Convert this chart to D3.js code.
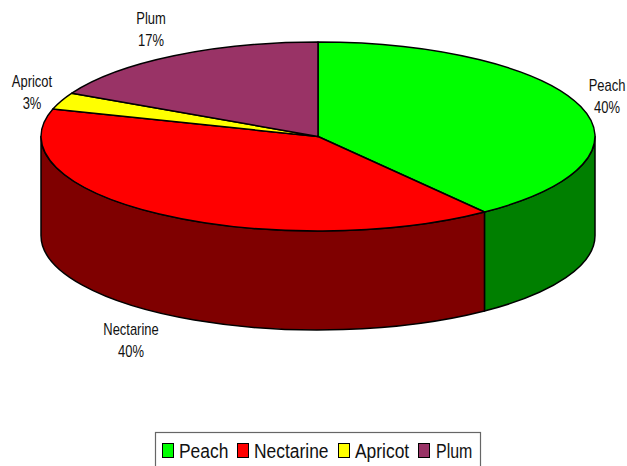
<!DOCTYPE html>
<html><head><meta charset="utf-8">
<script src="https://cdn.jsdelivr.net/npm/d3@7"></script>
<style>html,body{margin:0;padding:0;background:#fff;overflow:hidden}svg{display:block}
text{font-family:"Liberation Sans",sans-serif;fill:#111}</style>
</head><body><svg id="c" width="627" height="466"></svg>
<script>
const categories = ["Peach","Nectarine","Apricot","Plum"];
const values = [39.7,39.9,2.9,17.4];
const percentLabels = ["40%","40%","3%","17%"];
const topColors = ["#00ff00","#ff0000","#ffff00","#993366"];
const sideColors = ["#007f00","#7f0000","#7f7f00","#4c1933"];

const cx=318, cy=136.5, rx=277, ry=94.5, depth=99;
const svg=d3.select("#c");
const pie=d3.pie().sort(null).value((d,i)=>values[i]);
const arcs=pie(categories);
const px=a=>cx+rx*Math.sin(a), py=a=>cy-ry*Math.cos(a);
const H=Math.PI/2, TH=3*Math.PI/2;
function applyStroke(s){return s.attr("stroke","#000").attr("stroke-width",1.5).attr("stroke-linejoin","round");}

const sides=arcs.map((d,i)=>({i,a:Math.max(d.startAngle,H),b:Math.min(d.endAngle,TH)})).filter(d=>d.b>d.a);
applyStroke(svg.append("g").selectAll("path").data(sides).join("path")
 .attr("fill",d=>sideColors[d.i])
 .attr("d",d=>`M${px(d.a)},${py(d.a)}A${rx},${ry} 0 0 1 ${px(d.b)},${py(d.b)}`+
   `L${px(d.b)},${py(d.b)+depth}A${rx},${ry} 0 0 0 ${px(d.a)},${py(d.a)+depth}Z`));

applyStroke(svg.append("g").selectAll("path").data(arcs).join("path")
 .attr("fill",(d,i)=>topColors[i])
 .attr("d",d=>{const la=d.endAngle-d.startAngle>Math.PI?1:0;
   return `M${cx},${cy}L${px(d.startAngle)},${py(d.startAngle)}A${rx},${ry} 0 ${la} 1 ${px(d.endAngle)},${py(d.endAngle)}Z`;}));

// labels: horizontally condensed to match the narrow face of the reference
const labelCenters=[[607,96],[131,340],[32,92],[151,29]];
const narrow=0.81;
const lg=svg.append("g").selectAll("g").data(categories).join("g")
 .attr("transform",(d,i)=>`translate(${labelCenters[i][0]},${labelCenters[i][1]}) scale(${narrow},1)`)
 .attr("text-anchor","middle").attr("font-size",16);
lg.append("text").attr("y",-5).text(d=>d);
lg.append("text").attr("y",17).text((d,i)=>percentLabels[i]);

const lgd=svg.append("g");
lgd.append("rect").attr("x",155.5).attr("y",432.5).attr("width",325).attr("height",50)
 .attr("fill","#fff").attr("stroke","#666").attr("stroke-width",1.2);
const swatchX=[162,237,338,418];
const textX=[179,254,355,436];
const textScale=[0.83,0.83,0.83,0.76];
lgd.selectAll("rect.sw").data(categories).join("rect").attr("class","sw")
 .attr("x",(d,i)=>swatchX[i]+0.5).attr("y",443.5).attr("width",11).attr("height",14)
 .attr("fill",(d,i)=>topColors[i]).attr("stroke","#000");
lgd.selectAll("text").data(categories).join("text")
 .attr("transform",(d,i)=>`translate(${textX[i]},458) scale(${textScale[i]},1)`)
 .attr("font-size",21).text(d=>d);
</script></body></html>
